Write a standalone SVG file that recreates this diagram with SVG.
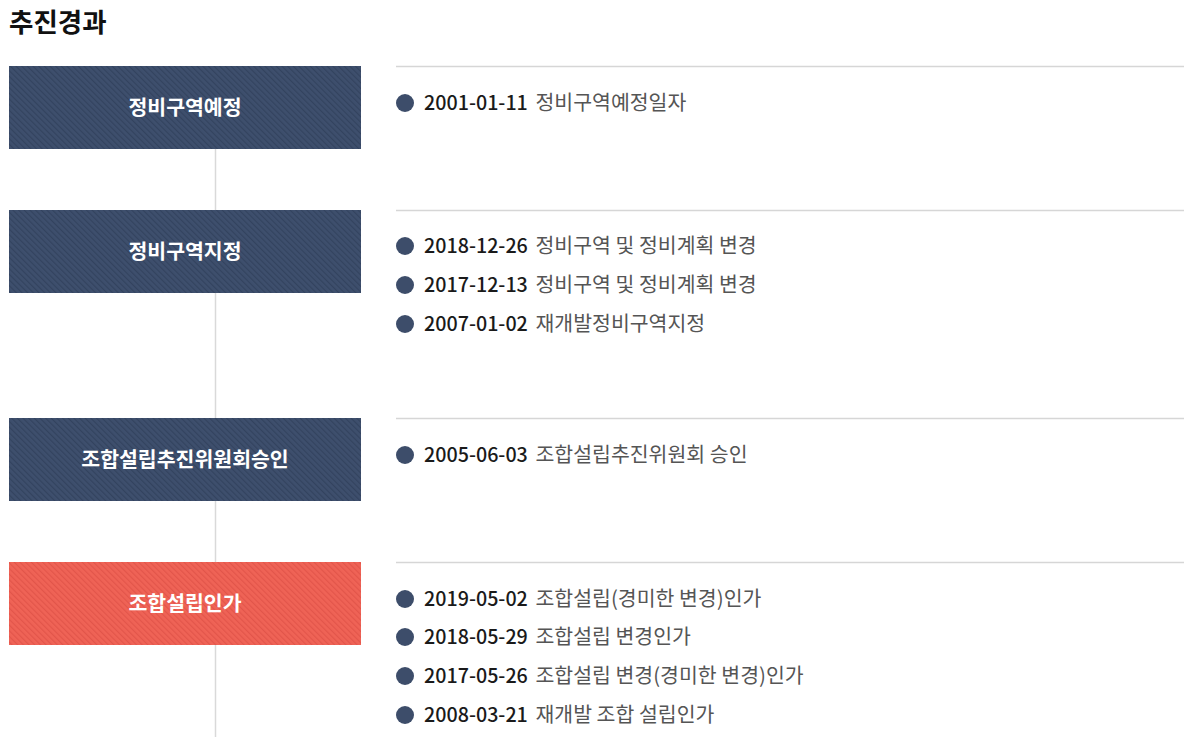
<svg xmlns="http://www.w3.org/2000/svg" width="1184" height="737" viewBox="0 0 1184 737">
<defs>
<pattern id="stripeN" width="4" height="4" patternUnits="userSpaceOnUse" patternTransform="rotate(-45)">
<rect width="4" height="4" fill="#3e4f6d"/>
<rect width="1.2" height="4" fill="#33435f"/>
</pattern>
<pattern id="stripeR" width="4" height="4" patternUnits="userSpaceOnUse" patternTransform="rotate(-45)">
<rect width="4" height="4" fill="#ef6356"/>
<rect width="1.2" height="4" fill="#e2554a"/>
</pattern>
</defs>
<style>
text{font-family:"Noto Sans CJK KR","Noto Sans",sans-serif}
.title{font-size:26.5px;font-weight:700;fill:#111}
.lbl{font-size:20.5px;font-weight:700;fill:#fff;text-anchor:middle}
.d{font-size:19.7px;font-weight:500;fill:#1a1a1a}
.t{font-size:20.5px;fill:#555}
.sep{stroke:#d6d6d6;stroke-width:1.5}
.dot{fill:#3d4d6a}
</style>
<rect width="1184" height="737" fill="#fff"/>
<text class="title" x="9" y="32">추진경과</text>
<g id="connectors">
<line x1="215.5" y1="149" x2="215.5" y2="737" stroke="#d9d9d9" stroke-width="1.5"/>
</g>
<g id="node1">
<rect x="9" y="66" width="352" height="83" fill="url(#stripeN)"/>
<text class="lbl" x="185" y="115">정비구역예정</text>
<line class="sep" x1="396" y1="66.5" x2="1184" y2="66.5"/>
<circle class="dot" cx="405" cy="103" r="9"/>
<text x="424" y="110"><tspan class="d">2001-01-11</tspan><tspan class="t" dx="3"> 정비구역예정일자</tspan></text>
</g>
<g id="node2">
<rect x="9" y="210" width="352" height="83" fill="url(#stripeN)"/>
<text class="lbl" x="185" y="259">정비구역지정</text>
<line class="sep" x1="396" y1="210.5" x2="1184" y2="210.5"/>
<circle class="dot" cx="405" cy="246" r="9"/>
<text x="424" y="253"><tspan class="d">2018-12-26</tspan><tspan class="t" dx="3"> 정비구역 및 정비계획 변경</tspan></text>
<circle class="dot" cx="405" cy="285" r="9"/>
<text x="424" y="292"><tspan class="d">2017-12-13</tspan><tspan class="t" dx="3"> 정비구역 및 정비계획 변경</tspan></text>
<circle class="dot" cx="405" cy="324" r="9"/>
<text x="424" y="331"><tspan class="d">2007-01-02</tspan><tspan class="t" dx="3"> 재개발정비구역지정</tspan></text>
</g>
<g id="node3">
<rect x="9" y="418" width="352" height="83" fill="url(#stripeN)"/>
<text class="lbl" x="185" y="467">조합설립추진위원회승인</text>
<line class="sep" x1="396" y1="418.5" x2="1184" y2="418.5"/>
<circle class="dot" cx="405" cy="455" r="9"/>
<text x="424" y="462"><tspan class="d">2005-06-03</tspan><tspan class="t" dx="3"> 조합설립추진위원회 승인</tspan></text>
</g>
<g id="node4">
<rect x="9" y="562" width="352" height="83" fill="url(#stripeR)"/>
<text class="lbl" x="185" y="611">조합설립인가</text>
<line class="sep" x1="396" y1="562.5" x2="1184" y2="562.5"/>
<circle class="dot" cx="405" cy="599" r="9"/>
<text x="424" y="606"><tspan class="d">2019-05-02</tspan><tspan class="t" dx="3"> 조합설립(경미한 변경)인가</tspan></text>
<circle class="dot" cx="405" cy="637" r="9"/>
<text x="424" y="644"><tspan class="d">2018-05-29</tspan><tspan class="t" dx="3"> 조합설립 변경인가</tspan></text>
<circle class="dot" cx="405" cy="676" r="9"/>
<text x="424" y="683"><tspan class="d">2017-05-26</tspan><tspan class="t" dx="3"> 조합설립 변경(경미한 변경)인가</tspan></text>
<circle class="dot" cx="405" cy="715" r="9"/>
<text x="424" y="722"><tspan class="d">2008-03-21</tspan><tspan class="t" dx="3"> 재개발 조합 설립인가</tspan></text>
</g>
</svg>
